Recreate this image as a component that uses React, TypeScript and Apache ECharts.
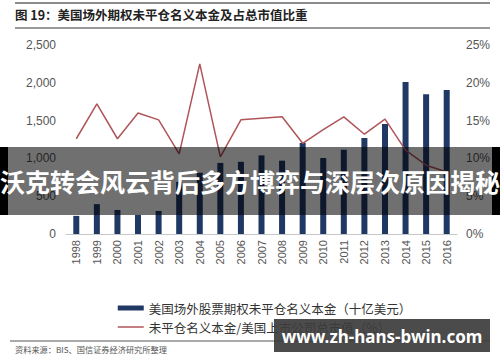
import React, { useEffect, useRef } from "react";
import * as echarts from "echarts";

const years = ["1998","1999","2000","2001","2002","2003","2004","2005","2006","2007","2008","2009","2010","2011","2012","2013","2014","2015","2016"];
const notional = [240, 395, 318, 252, 305, 690, 810, 940, 955, 1040, 970, 1205, 1005, 1115, 1270, 1455, 2010, 1850, 1905];
const ratio = [12.6, 17.2, 12.6, 16.0, 15.1, 10.6, 22.5, 10.2, 15.1, 15.3, 15.5, 12.0, 13.8, 15.5, 13.2, 15.2, 11.1, 9.1, 8.2];
const leftTicks = { min: 0, max: 2500, interval: 500 };
const rightTicks = { min: 0, max: 25, interval: 5 };
const barName = "美国场外股票期权未平仓名义本金（十亿美元）";
const lineName = "未平仓名义本金/美国上市公司总市值（%）";
const titleText = "图 19：美国场外期权未平仓名义本金及占总市值比重";
const sourceText = "资料来源：BIS、国信证券经济研究所整理";
const bannerText = "沃克转会风云背后多方博弈与深层次原因揭秘";
const watermarkText = "www.zh-hans-bwin.com";

const CJK = '"Noto Sans CJK SC", "Noto Sans", sans-serif';
const LAT = 'Arial, "Liberation Sans", sans-serif';

export default function App() {
  const ref = useRef<HTMLDivElement>(null);
  useEffect(() => {
    if (!ref.current) return;
    const chart = echarts.init(ref.current, null, { renderer: "svg" });
    chart.setOption({
      animation: false,
      backgroundColor: "#ffffff",
      grid: { left: 66, right: 43, top: 45, bottom: 128, containLabel: false },
      legend: {
        orient: "vertical",
        left: 112,
        top: 296,
        itemGap: 5,
        itemWidth: 26,
        itemHeight: 5,
        textStyle: { fontSize: 12.5, color: "#333", fontFamily: CJK, lineHeight: 14 },
        data: [
          { name: barName, icon: "rect" },
          { name: lineName, itemStyle: { opacity: 0 }, lineStyle: { color: "#b0545a", width: 1.5 } },
        ],
      },
      xAxis: {
        type: "category",
        data: years,
        axisLine: { lineStyle: { color: "#c8c8c8", width: 1 } },
        axisTick: { show: false },
        axisLabel: { rotate: 90, fontSize: 11, color: "#555", fontFamily: LAT, margin: 6 },
      },
      yAxis: [
        {
          type: "value",
          ...leftTicks,
          splitLine: { show: false },
          axisLine: { show: false },
          axisTick: { show: false },
          axisLabel: {
            fontSize: 12,
            color: "#555",
            fontFamily: LAT,
            margin: 10,
            formatter: (v: number) => v.toLocaleString("en-US"),
          },
        },
        {
          type: "value",
          ...rightTicks,
          splitLine: { show: false },
          axisLine: { show: false },
          axisTick: { show: false },
          axisLabel: { fontSize: 12, color: "#555", fontFamily: LAT, margin: 9, formatter: "{value}%" },
        },
      ],
      series: [
        {
          name: barName,
          type: "bar",
          data: notional,
          barWidth: 6,
          itemStyle: { color: "#1f3864" },
        },
        {
          name: lineName,
          type: "line",
          yAxisIndex: 1,
          data: ratio,
          symbol: "none",
          lineStyle: { color: "#b0545a", width: 1.5 },
          itemStyle: { color: "#b0545a" },
        },
      ],
      graphic: [
        { type: "line", z: 100, shape: { x1: 15, y1: 3, x2: 490, y2: 3 }, style: { stroke: "#666", lineWidth: 1.5 } },
        {
          type: "text", z: 100, left: 15, top: 8,
          style: { text: titleText, fontSize: 12.5, fontWeight: "bold", fill: "#222", fontFamily: CJK },
        },
        { type: "line", z: 100, shape: { x1: 15, y1: 28, x2: 490, y2: 28 }, style: { stroke: "#777", lineWidth: 1.5 } },
        { type: "line", z: 100, shape: { x1: 10, y1: 341, x2: 490, y2: 341 }, style: { stroke: "#555", lineWidth: 1 } },
        {
          type: "text", z: 100, left: 15, top: 345,
          style: { text: sourceText, fontSize: 8.2, fill: "#555", fontFamily: CJK },
        },
        { type: "rect", z: 100, shape: { x: 8, y: 147, width: 484, height: 68 }, style: { fill: "rgba(0,0,0,0.56)" } },
        { type: "rect", z: 100, shape: { x: 0, y: 147, width: 8, height: 68 }, style: { fill: "#000" } },
        { type: "rect", z: 100, shape: { x: 492, y: 147, width: 8, height: 68 }, style: { fill: "#000" } },
        {
          type: "text", z: 101, x: 250, y: 181,
          style: {
            text: bannerText, fontSize: 25, fontWeight: "bold", fill: "#fff", fontFamily: CJK,
            align: "center", verticalAlign: "middle",
          },
        },
        { type: "rect", z: 100, shape: { x: 274, y: 319, width: 216, height: 33 }, style: { fill: "rgba(60,60,60,0.92)" } },
        {
          type: "text", z: 101, x: 382, y: 336,
          style: {
            text: watermarkText, fontSize: 17, fontWeight: "bold", fill: "#fff", fontFamily: '"Noto Sans", sans-serif',
            align: "center", verticalAlign: "middle",
          },
        },
      ],
    });
    return () => chart.dispose();
  }, []);
  return <div ref={ref} style={{ position: "fixed", left: 0, top: 0, width: 500, height: 362 }} />;
}
